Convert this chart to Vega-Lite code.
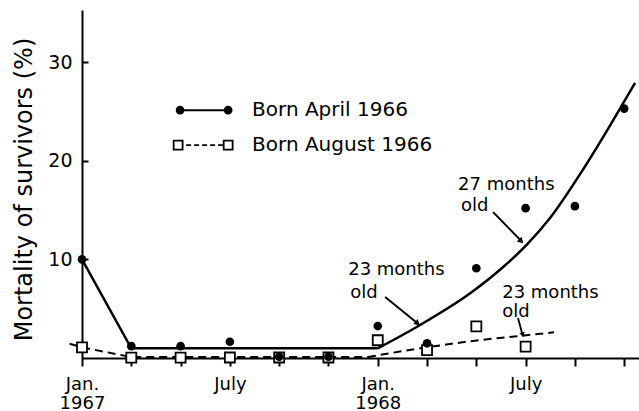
{
  "$schema": "https://vega.github.io/schema/vega-lite/v6.json",
  "width": 557,
  "height": 348,
  "autosize": {"type": "none"},
  "padding": {"left": 82, "top": 10, "right": 0, "bottom": 53},
  "background": "white",
  "config": {"view": {"stroke": null}, "font": "DejaVu Sans"},
  "datasets": {
    "obs": [
      {"cohort": "August", "month": 0, "value": 1.08},
      {"cohort": "August", "month": 2, "value": 0.03},
      {"cohort": "August", "month": 4, "value": 0.03},
      {"cohort": "August", "month": 6, "value": 0.05},
      {"cohort": "August", "month": 8, "value": 0.05},
      {"cohort": "August", "month": 10, "value": 0.05},
      {"cohort": "August", "month": 12, "value": 1.8},
      {"cohort": "August", "month": 14, "value": 0.8},
      {"cohort": "August", "month": 16, "value": 3.2},
      {"cohort": "August", "month": 18, "value": 1.15},
      {"cohort": "April", "month": 0, "value": 10},
      {"cohort": "April", "month": 2, "value": 1.2},
      {"cohort": "April", "month": 4, "value": 1.2},
      {"cohort": "April", "month": 6, "value": 1.65},
      {"cohort": "April", "month": 8, "value": 0.13},
      {"cohort": "April", "month": 10, "value": 0.13},
      {"cohort": "April", "month": 12, "value": 3.24},
      {"cohort": "April", "month": 14, "value": 1.49},
      {"cohort": "April", "month": 16, "value": 9.1},
      {"cohort": "April", "month": 18, "value": 15.2},
      {"cohort": "April", "month": 20, "value": 15.4},
      {"cohort": "April", "month": 22, "value": 25.3}
    ],
    "fit": [
      {"cohort": "April", "part": "a", "month": 0, "value": 10},
      {"cohort": "April", "part": "a", "month": 2, "value": 0.98},
      {"cohort": "April", "part": "a", "month": 12, "value": 0.98},
      {"cohort": "April", "part": "b", "month": 12, "value": 0.98},
      {"cohort": "April", "part": "b", "month": 13.72, "value": 3.35},
      {"cohort": "April", "part": "b", "month": 15.75, "value": 6.56},
      {"cohort": "April", "part": "b", "month": 17.1, "value": 9.25},
      {"cohort": "April", "part": "b", "month": 18.05, "value": 11.5},
      {"cohort": "April", "part": "b", "month": 18.99, "value": 14.2},
      {"cohort": "April", "part": "b", "month": 20.35, "value": 19.2},
      {"cohort": "April", "part": "b", "month": 21.43, "value": 23.6},
      {"cohort": "April", "part": "b", "month": 22.44, "value": 27.9},
      {"cohort": "August", "part": "a", "month": -0.5, "value": 1.45},
      {"cohort": "August", "part": "a", "month": 0, "value": 1.08},
      {"cohort": "August", "part": "a", "month": 2, "value": 0.1},
      {"cohort": "August", "part": "a", "month": 11.6, "value": 0.1},
      {"cohort": "August", "part": "b", "month": 11.6, "value": 0.1},
      {"cohort": "August", "part": "b", "month": 13.72, "value": 0.98},
      {"cohort": "August", "part": "b", "month": 16.15, "value": 1.82},
      {"cohort": "August", "part": "b", "month": 18.59, "value": 2.45},
      {"cohort": "August", "part": "b", "month": 19.15, "value": 2.6}
    ]
  },
  "layer": [
    {
      "data": {"name": "fit"},
      "transform": [{"filter": "datum.cohort == 'April' && datum.part == 'a'"}],
      "mark": {"type": "line", "color": "black", "strokeWidth": 2.5},
      "encoding": {
        "x": {
          "field": "month", "type": "quantitative",
          "scale": {"domain": [0, 22.6], "nice": false, "zero": false},
          "axis": {
            "title": null, "grid": false,
            "values": [0, 2, 4, 6, 8, 10, 12, 14, 16, 18, 20, 22],
            "domainColor": "black", "domainWidth": 2,
            "tickColor": "black", "tickWidth": 2, "tickSize": 8,
            "labelExpr": "datum.value == 0 ? ['Jan.', '1967'] : datum.value == 6 ? 'July' : datum.value == 12 ? ['Jan.', '1968'] : datum.value == 18 ? 'July' : ''",
            "labelFont": "DejaVu Sans", "labelFontSize": 18, "labelColor": "black",
            "labelPadding": 9, "labelLineHeight": 19, "labelFlush": false, "labelOverlap": false
          }
        },
        "y": {
          "field": "value", "type": "quantitative",
          "scale": {"domain": [0, 35.3], "nice": false},
          "axis": {
            "title": "Mortality of survivors (%)", "grid": false,
            "values": [10, 20, 30],
            "domainColor": "black", "domainWidth": 2,
            "tickColor": "black", "tickWidth": 2, "tickSize": -6,
            "labelFont": "DejaVu Sans", "labelFontSize": 19, "labelColor": "black",
            "labelPadding": 16,
            "titleFont": "DejaVu Sans", "titleFontSize": 24, "titleFontWeight": "normal", "titleColor": "black",
            "titleAngle": 270, "titleAlign": "center", "titleBaseline": "middle",
            "titleX": -58, "titleY": 179
          }
        }
      }
    },
    {
      "data": {"name": "fit"},
      "transform": [{"filter": "datum.cohort == 'April' && datum.part == 'b'"}],
      "mark": {"type": "line", "color": "black", "strokeWidth": 2.5, "interpolate": "monotone"},
      "encoding": {"x": {"field": "month", "type": "quantitative"}, "y": {"field": "value", "type": "quantitative"}}
    },
    {
      "data": {"name": "fit"},
      "transform": [{"filter": "datum.cohort == 'August' && datum.part == 'a'"}],
      "mark": {"type": "line", "color": "black", "strokeWidth": 2, "strokeDash": [8, 5]},
      "encoding": {"x": {"field": "month", "type": "quantitative"}, "y": {"field": "value", "type": "quantitative"}}
    },
    {
      "data": {"name": "fit"},
      "transform": [{"filter": "datum.cohort == 'August' && datum.part == 'b'"}],
      "mark": {"type": "line", "color": "black", "strokeWidth": 2, "strokeDash": [8, 5], "interpolate": "monotone"},
      "encoding": {"x": {"field": "month", "type": "quantitative"}, "y": {"field": "value", "type": "quantitative"}}
    },
    {
      "data": {"name": "obs"},
      "transform": [{"filter": "datum.cohort == 'August'"}],
      "mark": {"type": "point", "shape": "square", "size": 100, "filled": true, "fill": "white", "stroke": "black", "strokeWidth": 1.8, "opacity": 1},
      "encoding": {"x": {"field": "month", "type": "quantitative"}, "y": {"field": "value", "type": "quantitative"}}
    },
    {
      "data": {"name": "obs"},
      "transform": [{"filter": "datum.cohort == 'April'"}],
      "mark": {"type": "circle", "size": 75, "color": "black", "opacity": 1},
      "encoding": {"x": {"field": "month", "type": "quantitative"}, "y": {"field": "value", "type": "quantitative"}}
    },
    {
      "data": {"values": [{}]},
      "mark": {"type": "rule", "color": "black", "strokeWidth": 2},
      "encoding": {"x": {"datum": 3.98, "type": "quantitative"}, "x2": {"datum": 5.93}, "y": {"datum": 25.14, "type": "quantitative"}}
    },
    {
      "data": {"values": [{}]},
      "mark": {"type": "circle", "size": 75, "color": "black", "opacity": 1},
      "encoding": {"x": {"datum": 3.98, "type": "quantitative"}, "y": {"datum": 25.14, "type": "quantitative"}}
    },
    {
      "data": {"values": [{}]},
      "mark": {"type": "circle", "size": 75, "color": "black", "opacity": 1},
      "encoding": {"x": {"datum": 5.93, "type": "quantitative"}, "y": {"datum": 25.14, "type": "quantitative"}}
    },
    {
      "data": {"values": [{}]},
      "mark": {"type": "rule", "color": "black", "strokeWidth": 1.8, "strokeDash": [5, 3]},
      "encoding": {"x": {"datum": 3.9, "type": "quantitative"}, "x2": {"datum": 5.93}, "y": {"datum": 21.59, "type": "quantitative"}}
    },
    {
      "data": {"values": [{}]},
      "mark": {"type": "point", "shape": "square", "size": 80, "filled": true, "fill": "white", "stroke": "black", "strokeWidth": 1.8, "opacity": 1},
      "encoding": {"x": {"datum": 3.9, "type": "quantitative"}, "y": {"datum": 21.59, "type": "quantitative"}}
    },
    {
      "data": {"values": [{}]},
      "mark": {"type": "point", "shape": "square", "size": 80, "filled": true, "fill": "white", "stroke": "black", "strokeWidth": 1.8, "opacity": 1},
      "encoding": {"x": {"datum": 5.93, "type": "quantitative"}, "y": {"datum": 21.59, "type": "quantitative"}}
    },
    {
      "data": {"values": [{}]},
      "mark": {"type": "text", "text": "Born April 1966", "align": "left", "baseline": "middle", "font": "DejaVu Sans", "fontSize": 20, "color": "black"},
      "encoding": {"x": {"datum": 6.9, "type": "quantitative"}, "y": {"datum": 25.14, "type": "quantitative"}}
    },
    {
      "data": {"values": [{}]},
      "mark": {"type": "text", "text": "Born August 1966", "align": "left", "baseline": "middle", "font": "DejaVu Sans", "fontSize": 20, "color": "black"},
      "encoding": {"x": {"datum": 6.9, "type": "quantitative"}, "y": {"datum": 21.59, "type": "quantitative"}}
    },
    {
      "data": {"values": [{}]},
      "mark": {"type": "text", "text": "27 months", "align": "left", "baseline": "middle", "font": "DejaVu Sans", "fontSize": 18, "color": "black"},
      "encoding": {"x": {"datum": 15.26, "type": "quantitative"}, "y": {"datum": 17.54, "type": "quantitative"}}
    },
    {
      "data": {"values": [{}]},
      "mark": {"type": "text", "text": "old", "align": "left", "baseline": "middle", "font": "DejaVu Sans", "fontSize": 18, "color": "black"},
      "encoding": {"x": {"datum": 15.38, "type": "quantitative"}, "y": {"datum": 15.41, "type": "quantitative"}}
    },
    {
      "data": {"values": [{}]},
      "mark": {"type": "text", "text": "23 months", "align": "left", "baseline": "middle", "font": "DejaVu Sans", "fontSize": 18, "color": "black"},
      "encoding": {"x": {"datum": 10.8, "type": "quantitative"}, "y": {"datum": 8.92, "type": "quantitative"}}
    },
    {
      "data": {"values": [{}]},
      "mark": {"type": "text", "text": "old", "align": "left", "baseline": "middle", "font": "DejaVu Sans", "fontSize": 18, "color": "black"},
      "encoding": {"x": {"datum": 10.88, "type": "quantitative"}, "y": {"datum": 6.59, "type": "quantitative"}}
    },
    {
      "data": {"values": [{}]},
      "mark": {"type": "text", "text": "23 months", "align": "left", "baseline": "middle", "font": "DejaVu Sans", "fontSize": 18, "color": "black"},
      "encoding": {"x": {"datum": 17.05, "type": "quantitative"}, "y": {"datum": 6.62, "type": "quantitative"}}
    },
    {
      "data": {"values": [{}]},
      "mark": {"type": "text", "text": "old", "align": "left", "baseline": "middle", "font": "DejaVu Sans", "fontSize": 18, "color": "black"},
      "encoding": {"x": {"datum": 17.05, "type": "quantitative"}, "y": {"datum": 4.69, "type": "quantitative"}}
    },
    {
      "data": {"values": [{}]},
      "mark": {"type": "rule", "color": "black", "strokeWidth": 2},
      "encoding": {"x": {"datum": 16.68, "type": "quantitative"}, "y": {"datum": 14.8, "type": "quantitative"}, "x2": {"datum": 17.85}, "y2": {"datum": 11.8}}
    },
    {
      "data": {"values": [{}]},
      "mark": {"type": "point", "shape": "triangle-up", "size": 45, "filled": true, "color": "black", "opacity": 1, "angle": 136},
      "encoding": {"x": {"datum": 17.82, "type": "quantitative"}, "y": {"datum": 11.85, "type": "quantitative"}}
    },
    {
      "data": {"values": [{}]},
      "mark": {"type": "rule", "color": "black", "strokeWidth": 2},
      "encoding": {"x": {"datum": 12.3, "type": "quantitative"}, "y": {"datum": 6.18, "type": "quantitative"}, "x2": {"datum": 13.65}, "y2": {"datum": 3.45}}
    },
    {
      "data": {"values": [{}]},
      "mark": {"type": "point", "shape": "triangle-up", "size": 45, "filled": true, "color": "black", "opacity": 1, "angle": 131},
      "encoding": {"x": {"datum": 13.62, "type": "quantitative"}, "y": {"datum": 3.5, "type": "quantitative"}}
    },
    {
      "data": {"values": [{}]},
      "mark": {"type": "rule", "color": "black", "strokeWidth": 1.8},
      "encoding": {"x": {"datum": 17.69, "type": "quantitative"}, "y": {"datum": 4.05, "type": "quantitative"}, "x2": {"datum": 17.88}, "y2": {"datum": 2.3}}
    },
    {
      "data": {"values": [{}]},
      "mark": {"type": "point", "shape": "triangle-up", "size": 30, "filled": true, "color": "black", "opacity": 1, "angle": 165},
      "encoding": {"x": {"datum": 17.88, "type": "quantitative"}, "y": {"datum": 2.35, "type": "quantitative"}}
    }
  ]
}
